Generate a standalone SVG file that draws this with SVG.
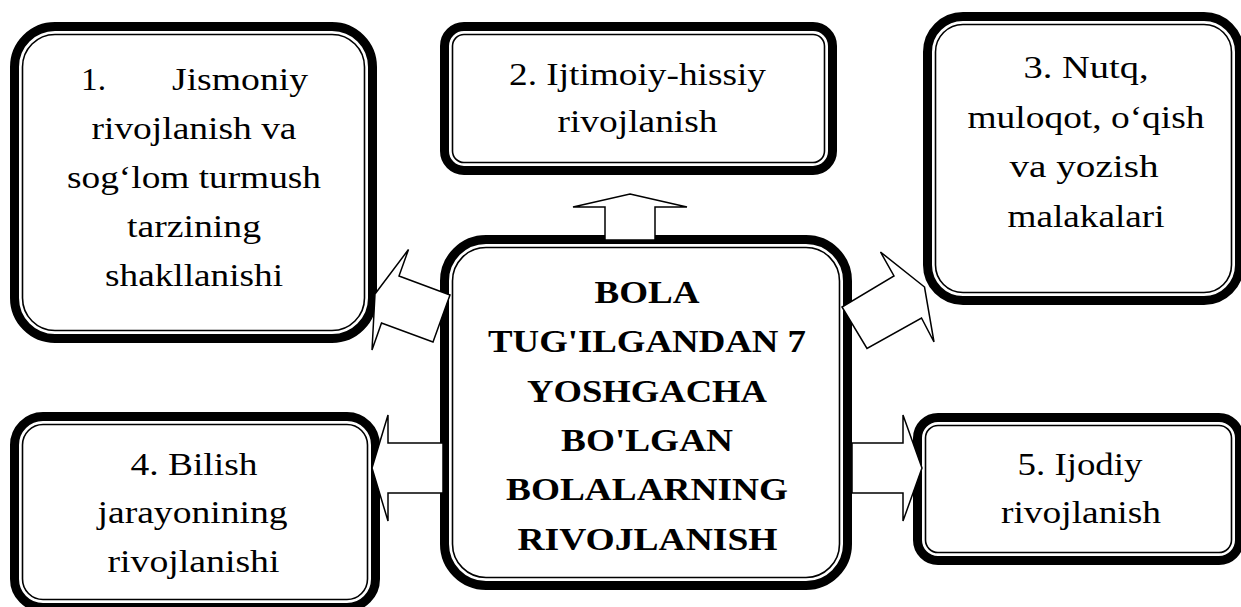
<svg xmlns="http://www.w3.org/2000/svg" width="1241" height="607" viewBox="0 0 1241 607">
<style>
.thick{fill:#fff;stroke:#000;stroke-width:9}
.thin{fill:none;stroke:#000;stroke-width:1.6}
.arrow{fill:#fff;stroke:#000;stroke-width:1.5;stroke-linejoin:miter}
.t{font-family:"Liberation Serif","Times New Roman",Times,Tinos,"Nimbus Roman",FreeSerif,"DejaVu Serif",serif;font-size:31px;fill:#000;text-anchor:middle}
.b{font-weight:bold;font-size:32px}
</style>
<rect width="1241" height="607" fill="#fff"/>
<g id="node1">
<rect class="thick" x="14.5" y="26.5" width="358" height="312" rx="40.5"/>
<rect class="thin" x="22.5" y="34.5" width="342" height="296" rx="32.5"/>
<g class="t">
<text x="81" y="90" text-anchor="start" textLength="25" lengthAdjust="spacingAndGlyphs">1.</text>
<text x="308" y="90" text-anchor="end" textLength="136" lengthAdjust="spacingAndGlyphs">Jismoniy</text>
<text x="194" y="139" textLength="205" lengthAdjust="spacingAndGlyphs">rivojlanish va</text>
<text x="194" y="188" textLength="254" lengthAdjust="spacingAndGlyphs">sog‘lom turmush</text>
<text x="194" y="237" textLength="134" lengthAdjust="spacingAndGlyphs">tarzining</text>
<text x="194" y="286" textLength="178" lengthAdjust="spacingAndGlyphs">shakllanishi</text>
</g>
</g>
<g id="node2">
<rect class="thick" x="444.5" y="26.5" width="388" height="144" rx="19.5"/>
<rect class="thin" x="452.5" y="34.5" width="372" height="128" rx="11.5"/>
<g class="t">
<text x="637.5" y="85" textLength="257" lengthAdjust="spacingAndGlyphs">2. Ijtimoiy-hissiy</text>
<text x="637.5" y="132" textLength="160" lengthAdjust="spacingAndGlyphs">rivojlanish</text>
</g>
</g>
<g id="node3">
<rect class="thick" x="927.5" y="16.5" width="312" height="284" rx="35.5"/>
<rect class="thin" x="935.5" y="24.5" width="296" height="268" rx="27.5"/>
<g class="t">
<text x="1086" y="78" textLength="125" lengthAdjust="spacingAndGlyphs">3. Nutq,</text>
<text x="1086" y="128" textLength="237" lengthAdjust="spacingAndGlyphs">muloqot, o‘qish</text>
<text x="1084" y="177" textLength="149" lengthAdjust="spacingAndGlyphs">va yozish</text>
<text x="1086" y="227" textLength="157" lengthAdjust="spacingAndGlyphs">malakalari</text>
</g>
</g>
<g id="node4">
<rect class="thick" x="14.5" y="416.5" width="361" height="191" rx="28.5"/>
<rect class="thin" x="22.5" y="424.5" width="345" height="175" rx="20.5"/>
<g class="t">
<text x="194" y="475" textLength="127" lengthAdjust="spacingAndGlyphs">4. Bilish</text>
<text x="192.5" y="523" textLength="190" lengthAdjust="spacingAndGlyphs">jarayonining</text>
<text x="193.5" y="572" textLength="172" lengthAdjust="spacingAndGlyphs">rivojlanishi</text>
</g>
</g>
<g id="node5">
<rect class="thick" x="917.5" y="417.5" width="322" height="143" rx="20.5"/>
<rect class="thin" x="925.5" y="425.5" width="306" height="127" rx="12.5"/>
<g class="t">
<text x="1080" y="475" textLength="125" lengthAdjust="spacingAndGlyphs">5. Ijodiy</text>
<text x="1081" y="523" textLength="160" lengthAdjust="spacingAndGlyphs">rivojlanish</text>
</g>
</g>
<g id="center">
<rect class="thick" x="444.5" y="239.5" width="403" height="346" rx="41.5"/>
<rect class="thin" x="452.5" y="247.5" width="387" height="330" rx="33.5"/>
<g class="t b">
<text x="647" y="303" textLength="105" lengthAdjust="spacingAndGlyphs">BOLA</text>
<text x="647" y="352" textLength="318" lengthAdjust="spacingAndGlyphs">TUG'ILGANDAN 7</text>
<text x="647" y="402" textLength="240" lengthAdjust="spacingAndGlyphs">YOSHGACHA</text>
<text x="647" y="451" textLength="172" lengthAdjust="spacingAndGlyphs">BO'LGAN</text>
<text x="647" y="500" textLength="282" lengthAdjust="spacingAndGlyphs">BOLALARNING</text>
<text x="647.5" y="550" textLength="260" lengthAdjust="spacingAndGlyphs">RIVOJLANISH</text>
</g>
</g>
<g id="connectors">
<polygon class="arrow" points="630,194 687,207 655,207 655,240 605,240 605,207 573,207"/>
<polygon class="arrow" points="375,294 408.5,249.5 399,276 450,295 433,342 381.5,323 372,350"/>
<polygon class="arrow" points="924.5,287 880.5,252 894,276 842,307 867,348.5 921.5,318 934,342"/>
<polygon class="arrow" points="372,468 388,415 388,443 443,443 443,493 388,493 388,521"/>
<polygon class="arrow" points="922,468 903,415 903,443 852,443 852,493 903,493 903,521"/>
</g>
</svg>
